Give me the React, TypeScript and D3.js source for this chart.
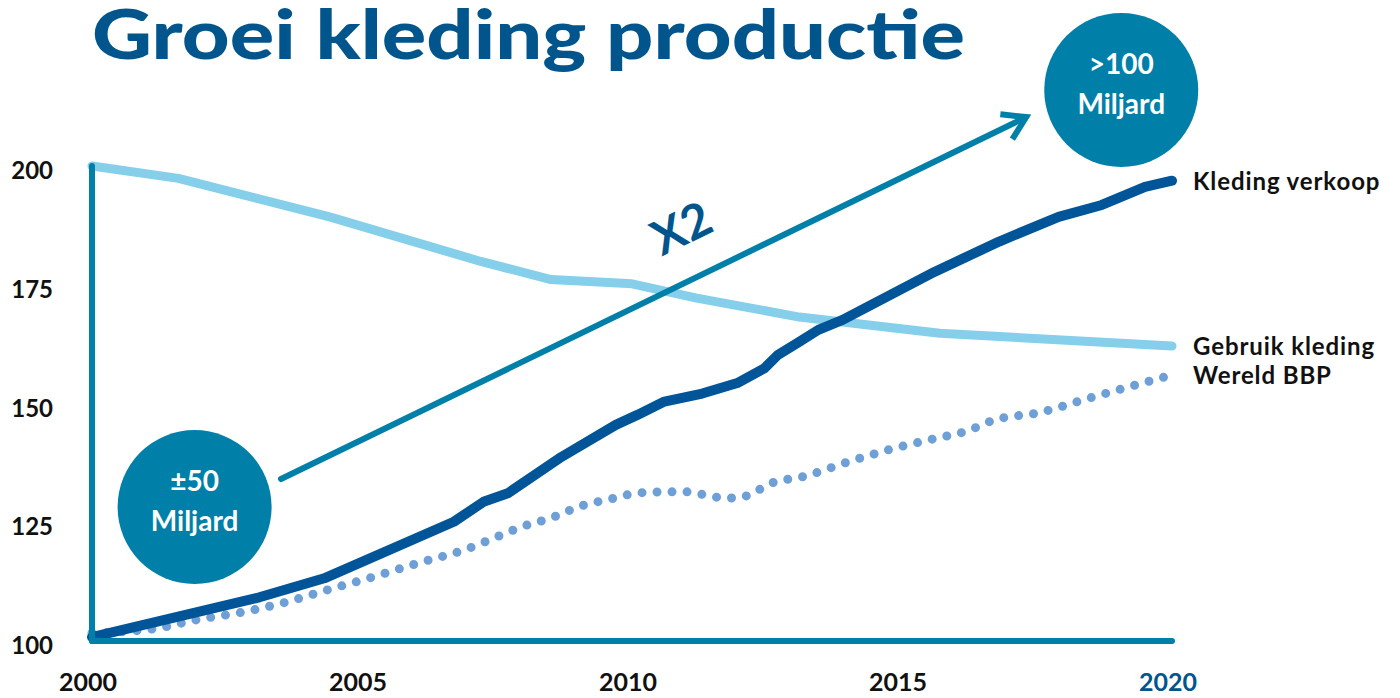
import React from "react";
import * as d3 from "d3";

// ---- Data ----
const xTickLabels = [2000, 2005, 2010, 2015, 2020];
const yTickLabels = [100, 125, 150, 175, 200];

const gebruikYears = [2000, 2001.6, 2004.4, 2007.2, 2008.5, 2010, 2011.2, 2013.1, 2015.7, 2020];
const gebruikValues = [200, 197.4, 189.3, 179.9, 176.1, 175.2, 172.2, 168.2, 164.8, 162.1];

const verkoopYears = [2000, 2003.1, 2004.3, 2006.7, 2007.25, 2007.7, 2008.7, 2009.7, 2010.1, 2010.6, 2011.3, 2011.95, 2012.45, 2012.7, 2013.1, 2013.45, 2013.9, 2015.6, 2016.8, 2017.9, 2018.7, 2019.5, 2020];
const verkoopValues = [100.8, 109.2, 113.2, 125.1, 129.3, 131.1, 138.8, 145.5, 147.6, 150.4, 152.1, 154.3, 157.4, 160.2, 163.0, 165.5, 167.6, 177.7, 184.1, 189.3, 191.8, 195.6, 196.9];

const bbpYears = [2000, 2001.1, 2002, 2002.8, 2003.6, 2004.4, 2005, 2006.1, 2006.9, 2007.45, 2008, 2008.5, 2009.05, 2009.6, 2010.15, 2010.7, 2011, 2011.55, 2011.85, 2012.1, 2012.6, 2013.2, 2014, 2014.8, 2015.6, 2016.2, 2016.7, 2017.55, 2018.4, 2019.2, 2020];
const bbpValues = [101.7, 102.5, 104.6, 106.1, 108.2, 110.9, 112.8, 116.6, 119.2, 121.7, 124.2, 125.9, 128.4, 129.9, 131.2, 131.4, 131.4, 130.3, 130.1, 130.5, 133.3, 134.7, 137.7, 140.4, 142.6, 144.2, 146.5, 148.1, 150.9, 153.5, 156.0];

const seriesNames = ["Kleding verkoop", "Gebruik kleding", "Wereld BBP"];

// annotations in data units
const arrowYears = [2003.5, 2017.3];
const arrowValues = [134.1, 210.3];
const bubbleYears = [2001.9, 2019.06];
const bubbleValues = [128.2, 216];
const bubbleTop = ["±50", ">100"];
const bubbleBottom = ["Miljard", "Miljard"];
const multLabel = "X2";
const multYear = 2010.9;
const multValue = 187.2;

const TITLE = "Groei kleding productie";

const C_TITLE = "#00558C";
const C_AXIS = "#0080A9";
const C_DARK = "#005599";
const C_LIGHT = "#85CFEA";
const C_DOT = "#6E9FD6";
const FONT = "Lato, 'Open Sans', sans-serif";

export default function App() {
  const W = 1400, H = 698;
  const x = d3.scaleLinear().domain([2000, 2020]).range([92, 1172]);
  const y = d3.scaleLinear().domain([100, 200]).range([641, 166]);

  const mk = (ys: number[], vs: number[], curve: any) =>
    d3.line<number>().x((_, i) => x(ys[i])).y((v) => y(v)).curve(curve)(vs) || "";

  const dDark = mk(verkoopYears, verkoopValues, d3.curveLinear);
  const dLight = mk(gebruikYears, gebruikValues, d3.curveLinear);
  const dBbp = mk(bbpYears, bbpValues, d3.curveMonotoneX);

  const ax0 = x(arrowYears[0]), ay0 = y(arrowValues[0]);
  const ax1 = x(arrowYears[1]), ay1 = y(arrowValues[1]);
  const ang = Math.atan2(ay1 - ay0, ax1 - ax0);
  const headLen = 26, headAng = (32 * Math.PI) / 180;
  const h1 = [ax1 - headLen * Math.cos(ang - headAng), ay1 - headLen * Math.sin(ang - headAng)];
  const h2 = [ax1 - headLen * Math.cos(ang + headAng), ay1 - headLen * Math.sin(ang + headAng)];
  const angDeg = (ang * 180) / Math.PI;

  const ends = [
    { name: seriesNames[0], v: verkoopValues[verkoopValues.length - 1] },
    { name: seriesNames[1], v: gebruikValues[gebruikValues.length - 1] },
    { name: seriesNames[2], v: bbpValues[bbpValues.length - 1] },
  ];

  return (
    <svg width={W} height={H} style={{ position: "absolute", left: 0, top: 0, background: "#fff" }} fontFamily={FONT}>
      <text x={92} y={59} fontSize={68} fontWeight={900} fill={C_TITLE} textLength={873} lengthAdjust="spacingAndGlyphs">
        {TITLE}
      </text>

      {/* y tick labels */}
      {yTickLabels.map((t) => (
        <text key={t} x={53} y={y(t) + 13} textAnchor="end" fontSize={24} fontWeight={700} fill="#111">
          {t}
        </text>
      ))}
      {/* x tick labels */}
      {xTickLabels.map((t, i) => (
        <text key={t} x={x(t) - 4} y={691} textAnchor="middle" fontSize={25} fontWeight={700}
          fill={i === xTickLabels.length - 1 ? C_TITLE : "#111"}>
          {t}
        </text>
      ))}

      {/* series */}
      <path d={dLight} fill="none" stroke={C_LIGHT} strokeWidth={9} strokeLinecap="round" strokeLinejoin="round" />
      <path d={dBbp} fill="none" stroke={C_DOT} strokeWidth={9} strokeDasharray="0 15" strokeLinecap="round" />
      <path d={dDark} fill="none" stroke={C_DARK} strokeWidth={10} strokeLinecap="round" strokeLinejoin="round" />

      {/* axes */}
      <line x1={x(2000)} y1={y(100)} x2={x(2000)} y2={y(200)} stroke={C_AXIS} strokeWidth={6} strokeLinecap="round" />
      <line x1={x(2000)} y1={y(100)} x2={x(2020)} y2={y(100)} stroke={C_AXIS} strokeWidth={6} strokeLinecap="round" />

      {/* arrow */}
      <line x1={ax0} y1={ay0} x2={ax1 - 3 * Math.cos(ang)} y2={ay1 - 3 * Math.sin(ang)} stroke={C_AXIS} strokeWidth={6} strokeLinecap="round" />
      <polyline points={`${h1[0]},${h1[1]} ${ax1},${ay1} ${h2[0]},${h2[1]}`} fill="none" stroke={C_AXIS} strokeWidth={6} strokeLinejoin="miter" strokeMiterlimit={10} />
      <text x={x(multYear)} y={y(multValue)} transform={`rotate(${angDeg}, ${x(multYear)}, ${y(multValue)})`}
        textAnchor="middle" dominantBaseline="central" fontSize={48} fontWeight={700} fill={C_TITLE}>
        {multLabel}
      </text>

      {/* bubbles */}
      {bubbleYears.map((by, i) => (
        <g key={i}>
          <circle cx={x(by)} cy={y(bubbleValues[i])} r={77} fill={C_AXIS} />
          <text x={x(by)} y={y(bubbleValues[i]) - 16} textAnchor="middle" fontSize={28} fontWeight={700} fill="#fff">
            {bubbleTop[i]}
          </text>
          <text x={x(by)} y={y(bubbleValues[i]) + 24} textAnchor="middle" fontSize={28} fontWeight={700} fill="#fff">
            {bubbleBottom[i]}
          </text>
        </g>
      ))}

      {/* series labels */}
      {ends.map((e) => (
        <text key={e.name} x={1193} y={y(e.v) + 9} fontSize={24} fontWeight={700} fill="#111" letterSpacing={0.9}>
          {e.name}
        </text>
      ))}
    </svg>
  );
}
